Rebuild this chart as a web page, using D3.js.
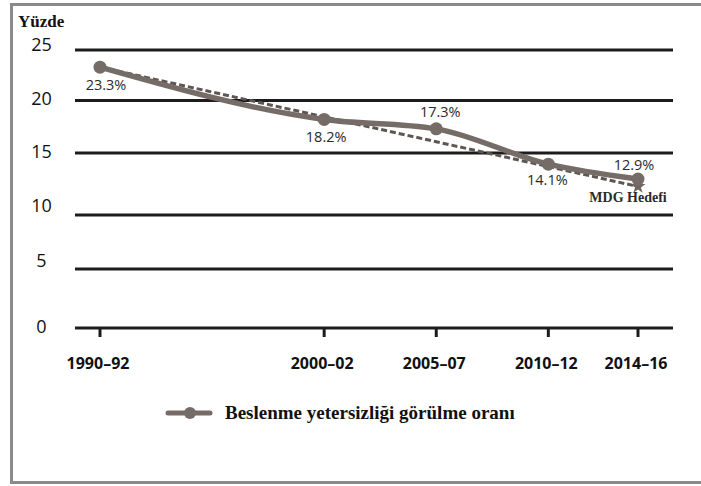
<!DOCTYPE html>
<html>
<head>
<meta charset="utf-8">
<script src="https://cdn.jsdelivr.net/npm/d3@7"></script>
<style>
  html, body { margin: 0; padding: 0; background: #fff; }
  svg { display: block; }
</style>
</head>
<body>
<svg id="chart" width="701" height="486"></svg>
<script>
// Survey periods and their mid-years
const periods = ["1990–92", "2000–02", "2005–07", "2010–12", "2014–16"];
const midYears = [1991, 2001, 2006, 2011, 2015];
// Prevalence of undernourishment (%)
const prevalence = [23.3, 18.2, 17.3, 14.1, 12.9];
const valueLabels = ["23.3%", "18.2%", "17.3%", "14.1%", "12.9%"];
// MDG target path: start and end of the halving line
const mdgYears = [1991, 2015];
const mdgValues = [23.3, 12.3];
// Y axis ticks
const yTicks = [0, 5, 10, 15, 20, 25];

const svg = d3.select("#chart");
const lineColor = "#766c67";
const ink = "#1c1c1c";

// Frame
svg.append("rect")
  .attr("x", 11.5).attr("y", 4.5)
  .attr("width", 720).attr("height", 478)
  .attr("fill", "none").attr("stroke", "#8a8a8a").attr("stroke-width", 3);

const x = d3.scaleLinear().domain([1991, 2015]).range([100, 638]);
const y = d3.scaleLinear().domain(yTicks).range([328, 269, 215, 153, 100.5, 50]);

// Horizontal gridlines
svg.append("g").selectAll("line").data(yTicks).join("line")
  .attr("x1", 75).attr("x2", 673)
  .attr("y1", d => y(d)).attr("y2", d => y(d))
  .attr("stroke", ink).attr("stroke-width", 3);

// Y tick labels, baseline nudges per tick
const yLabelShift = [5, -2.5, -3.5, 4.5, 4.5, 1];
svg.append("g").selectAll("text").data(yTicks).join("text")
  .attr("x", 41.5).attr("y", (d, i) => y(d) + yLabelShift[i])
  .attr("text-anchor", "middle")
  .attr("font-family", "Open Sans, sans-serif")
  .attr("font-size", 18)
  .attr("fill", "#111")
  .text(d => d);

// Y axis title
svg.append("text")
  .attr("x", 18).attr("y", 27)
  .attr("font-family", "'Liberation Serif', serif")
  .attr("font-weight", "bold")
  .attr("font-size", 17)
  .attr("fill", "#111")
  .text("Yüzde");

// X ticks and labels
const xg = svg.append("g");
xg.selectAll("line").data(midYears).join("line")
  .attr("x1", d => x(d)).attr("x2", d => x(d))
  .attr("y1", y(0)).attr("y2", y(0) + 9)
  .attr("stroke", ink).attr("stroke-width", 3);
xg.selectAll("text").data(periods).join("text")
  .attr("x", (d, i) => x(midYears[i]) - 2)
  .attr("y", 369)
  .attr("text-anchor", "middle")
  .attr("font-family", "Open Sans, sans-serif")
  .attr("font-weight", "bold")
  .attr("font-size", 16)
  .attr("fill", "#111")
  .text(d => d);

// MDG target dashed line
svg.append("path")
  .datum(mdgYears.map((yr, i) => [yr, mdgValues[i]]))
  .attr("fill", "none")
  .attr("stroke", "#5e5653")
  .attr("stroke-width", 3)
  .attr("stroke-dasharray", "6,3")
  .attr("d", d3.line().x(d => x(d[0])).y(d => y(d[1])));

// Prevalence line
const pts = midYears.map((yr, i) => [yr, prevalence[i]]);
svg.append("path")
  .datum(pts)
  .attr("fill", "none")
  .attr("stroke", lineColor)
  .attr("stroke-width", 5.5)
  .attr("stroke-linejoin", "round")
  .attr("d", d3.line().x(d => x(d[0])).y(d => y(d[1])).curve(d3.curveMonotoneX));

// MDG target marker
svg.append("path")
  .attr("transform", `translate(${x(mdgYears[1])},${y(mdgValues[1])})`)
  .attr("d", d3.symbol(d3.symbolStar, 70)())
  .attr("fill", "#6e6561");

svg.append("g").selectAll("circle").data(pts).join("circle")
  .attr("cx", d => x(d[0])).attr("cy", d => y(d[1]))
  .attr("r", 6.5)
  .attr("fill", lineColor);

// Value labels
const labelDy = [23, 23, -12, 21, -9];
const labelDx = [6, 2, 4, -1, -4];
svg.append("g").selectAll("text").data(valueLabels).join("text")
  .attr("x", (d, i) => x(midYears[i]) + labelDx[i])
  .attr("y", (d, i) => y(prevalence[i]) + labelDy[i])
  .attr("text-anchor", "middle")
  .attr("font-family", "Open Sans, sans-serif")
  .attr("font-size", 14.5)
  .attr("fill", "#2a2a2a")
  .text(d => d);

svg.append("text")
  .attr("x", 628).attr("y", 202)
  .attr("text-anchor", "middle")
  .attr("font-family", "'Liberation Serif', serif")
  .attr("font-weight", "bold")
  .attr("font-size", 14)
  .attr("fill", "#2a2a2a")
  .text("MDG Hedefi");

// Legend
const lg = svg.append("g").attr("transform", "translate(168,413)");
lg.append("line").attr("x1", 0).attr("x2", 42).attr("y1", 0).attr("y2", 0)
  .attr("stroke", lineColor).attr("stroke-width", 5).attr("stroke-linecap", "round");
lg.append("circle").attr("cx", 22).attr("cy", 0).attr("r", 6).attr("fill", lineColor);
lg.append("text")
  .attr("x", 57).attr("y", 6)
  .attr("font-family", "'Liberation Serif', serif")
  .attr("font-weight", "bold")
  .attr("font-size", 19)
  .attr("fill", "#111")
  .text("Beslenme yetersizliği görülme oranı");
</script>
</body>
</html>
